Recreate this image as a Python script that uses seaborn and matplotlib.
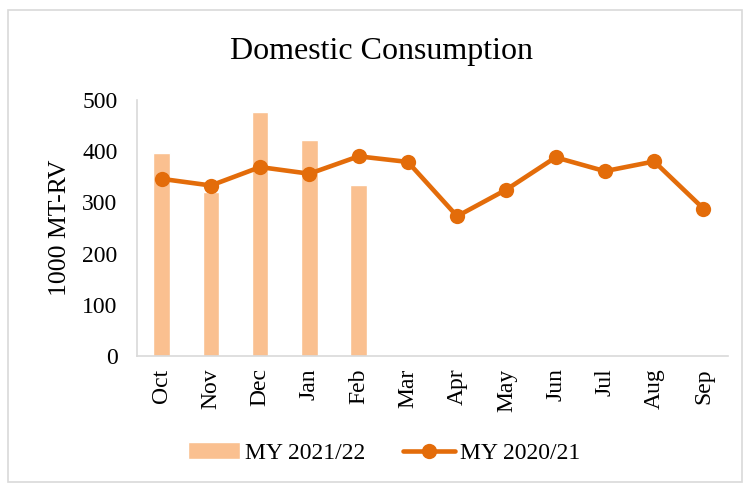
import pandas as pd
import seaborn as sns
import matplotlib.pyplot as plt
from matplotlib.patches import Rectangle

# Werte
months = ['Oct', 'Nov', 'Dec', 'Jan', 'Feb', 'Mar', 'Apr', 'May', 'Jun', 'Jul', 'Aug', 'Sep']
my_2021_22 = [397, 320, 476, 421, 334]
my_2020_21 = [346, 333, 369, 356, 390, 379, 273, 325, 388, 361, 380, 288]

bar_data = pd.DataFrame({'month': months[:len(my_2021_22)], 'value': my_2021_22})
line_data = pd.DataFrame({'month': months, 'value': my_2020_21})

sns.set_style('white')
plt.rcParams['font.family'] = ['Liberation Serif', 'DejaVu Serif']
plt.rcParams['text.color'] = 'black'
plt.rcParams['axes.labelcolor'] = 'black'
plt.rcParams['xtick.color'] = 'black'
plt.rcParams['ytick.color'] = 'black'

fig = plt.figure(figsize=(7.46, 4.84), dpi=100)
ax = fig.add_axes([137 / 746, 1 - 356 / 484, (728 - 137) / 746, (356 - 100) / 484])

sns.barplot(data=bar_data, x='month', y='value', order=months, color='#FAC090',
            saturation=1, width=0.34, ax=ax, label='MY 2021/22')
sns.lineplot(data=line_data, x='month', y='value', color='#E36C0A', linewidth=3.3,
             marker='o', markersize=11, markeredgewidth=0, ax=ax, label='MY 2020/21')

ax.set_ylim(0, 500)
ax.set_xlim(-0.5, 11.5)
ax.set_yticks([0, 100, 200, 300, 400, 500])
ax.set_xlabel('')
ax.set_ylabel('1000 MT-RV', fontsize=18.5, labelpad=8)
ax.tick_params(axis='y', labelsize=17, length=0, pad=14)
ax.tick_params(axis='x', labelsize=17, length=0, rotation=90, pad=9)
for side in ['top', 'right']:
    ax.spines[side].set_visible(False)
for side in ['left', 'bottom']:
    ax.spines[side].set_color('#D9D9D9')
    ax.spines[side].set_linewidth(1.2)

fig.text(382 / 746, 1 - 51 / 484, 'Domestic Consumption', ha='center', va='center', fontsize=23)

# Legende: Balken zuerst, dann Linie
handles, labels = ax.get_legend_handles_labels()
order = [labels.index('MY 2021/22'), labels.index('MY 2020/21')]
ax.legend([handles[i] for i in order], [labels[i] for i in order],
          loc='center', bbox_to_anchor=(0.515, 1 - 453 / 484), bbox_transform=fig.transFigure,
          ncol=2, frameon=False, fontsize=17, handlelength=2.2, handletextpad=0.2,
          columnspacing=1.6)

# Rahmen um das Diagramm
fig.patches.append(Rectangle((8 / 746, 0.005), 734 / 746, 1 - 10 / 484 - 0.005,
                             transform=fig.transFigure, fill=False,
                             edgecolor='#D9D9D9', linewidth=1.2))

fig.savefig('out.png', dpi=100)
